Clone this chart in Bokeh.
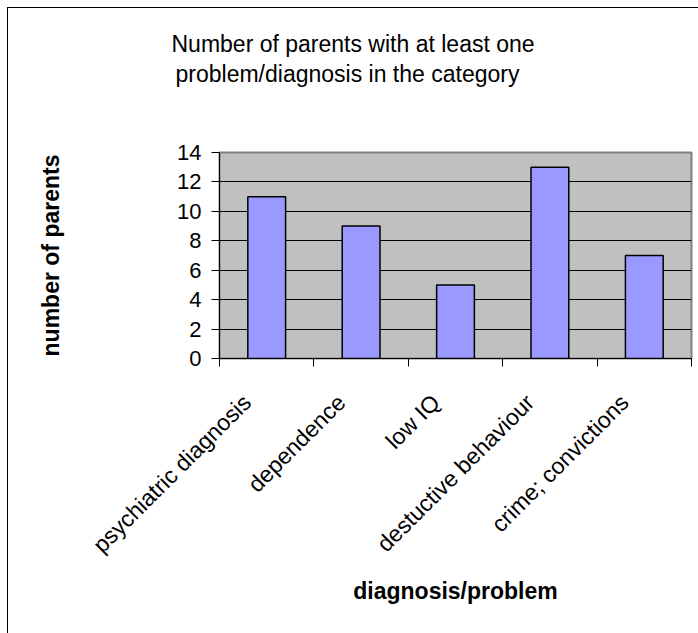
import math
from bokeh.plotting import figure
from bokeh.models import Range1d, FixedTicker, Title
from bokeh.embed import file_html
from bokeh.resources import INLINE

categories = ["psychiatric diagnosis", "dependence", "low IQ", "destuctive behaviour", "crime; convictions"]
counts = [11, 9, 5, 13, 7]
y_ticks = [0, 2, 4, 6, 8, 10, 12, 14]
title_lines = ["Number of parents with at least one", "problem/diagnosis in the category"]
x_title = "diagnosis/problem"
y_title = "number of parents"

FONT = "Liberation Sans"
n = len(categories)
centers = [i + 0.5 for i in range(n)]
bounds = list(range(n + 1))
label_shift = 0.21  # category labels sit a little left of the bar centre

p = figure(
    title=None,
    x_range=Range1d(0, n), y_range=Range1d(0, 14),
    frame_width=472, frame_height=206,
    min_border_left=211, min_border_right=7, min_border_top=144, min_border_bottom=275,
    output_backend="svg", toolbar_location=None,
    background_fill_color="#C0C0C0", border_fill_color="white",
)
p.styles = {"margin-left": "7px", "margin-top": "7px",
            "border-left": "1px solid black", "border-top": "1px solid black"}
p.outline_line_color = "#808080"
p.outline_line_width = 2

# title: spacer (closest to frame), then line 2, then line 1
p.add_layout(Title(text=" ", text_font_size="10px", standoff=53), "above")
p.add_layout(Title(text=title_lines[1], align="left", offset=-44, standoff=0,
                   text_font=FONT, text_font_size="23px", text_font_style="normal",
                   text_color="black"), "above")
p.add_layout(Title(text=title_lines[0], align="left", offset=-48, standoff=4,
                   text_font=FONT, text_font_size="23px", text_font_style="normal",
                   text_color="black"), "above")

p.vbar(x=centers, top=counts, width=0.4, bottom=0,
       fill_color="#9999FF", line_color="black", line_width=1.5)

# grid
p.xgrid.visible = False
p.ygrid.ticker = FixedTicker(ticks=y_ticks[1:-1])
p.ygrid.grid_line_color = "black"
p.ygrid.grid_line_width = 1

# y axis
p.yaxis.ticker = FixedTicker(ticks=y_ticks)
p.yaxis.axis_line_color = "black"
p.yaxis.major_tick_in = 0
p.yaxis.major_tick_out = 8
p.yaxis.minor_tick_line_color = None
p.yaxis.major_label_standoff = 10
p.yaxis.major_label_text_font = FONT
p.yaxis.major_label_text_font_size = "22px"
p.yaxis.major_label_text_color = "black"
p.yaxis.axis_label = y_title
p.yaxis.axis_label_standoff = 110
p.yaxis.axis_label_text_font = FONT
p.yaxis.axis_label_text_font_size = "23px"
p.yaxis.axis_label_text_font_style = "bold"
p.yaxis.axis_label_text_color = "black"

# x axis
label_pos = [c - label_shift for c in centers]
p.xaxis.ticker = FixedTicker(ticks=label_pos, minor_ticks=bounds)
p.xaxis.major_label_overrides = {c: lab for c, lab in zip(label_pos, categories)}
p.xaxis.major_tick_line_color = None
p.xaxis.major_tick_out = 0
p.xaxis.major_tick_in = 0
p.xaxis.minor_tick_in = 0
p.xaxis.minor_tick_out = 8
p.xaxis.minor_tick_line_color = "black"
p.xaxis.axis_line_color = "black"
p.xaxis.major_label_orientation = math.pi / 4
p.xaxis.major_label_standoff = 32
p.xaxis.major_label_text_font = FONT
p.xaxis.major_label_text_font_size = "23px"
p.xaxis.major_label_text_color = "black"
p.xaxis.axis_label = x_title
p.xaxis.axis_label_standoff = 8
p.xaxis.axis_label_text_font = FONT
p.xaxis.axis_label_text_font_size = "23px"
p.xaxis.axis_label_text_font_style = "bold"
p.xaxis.axis_label_text_color = "black"

open("out.html", "w").write(file_html(p, INLINE))
